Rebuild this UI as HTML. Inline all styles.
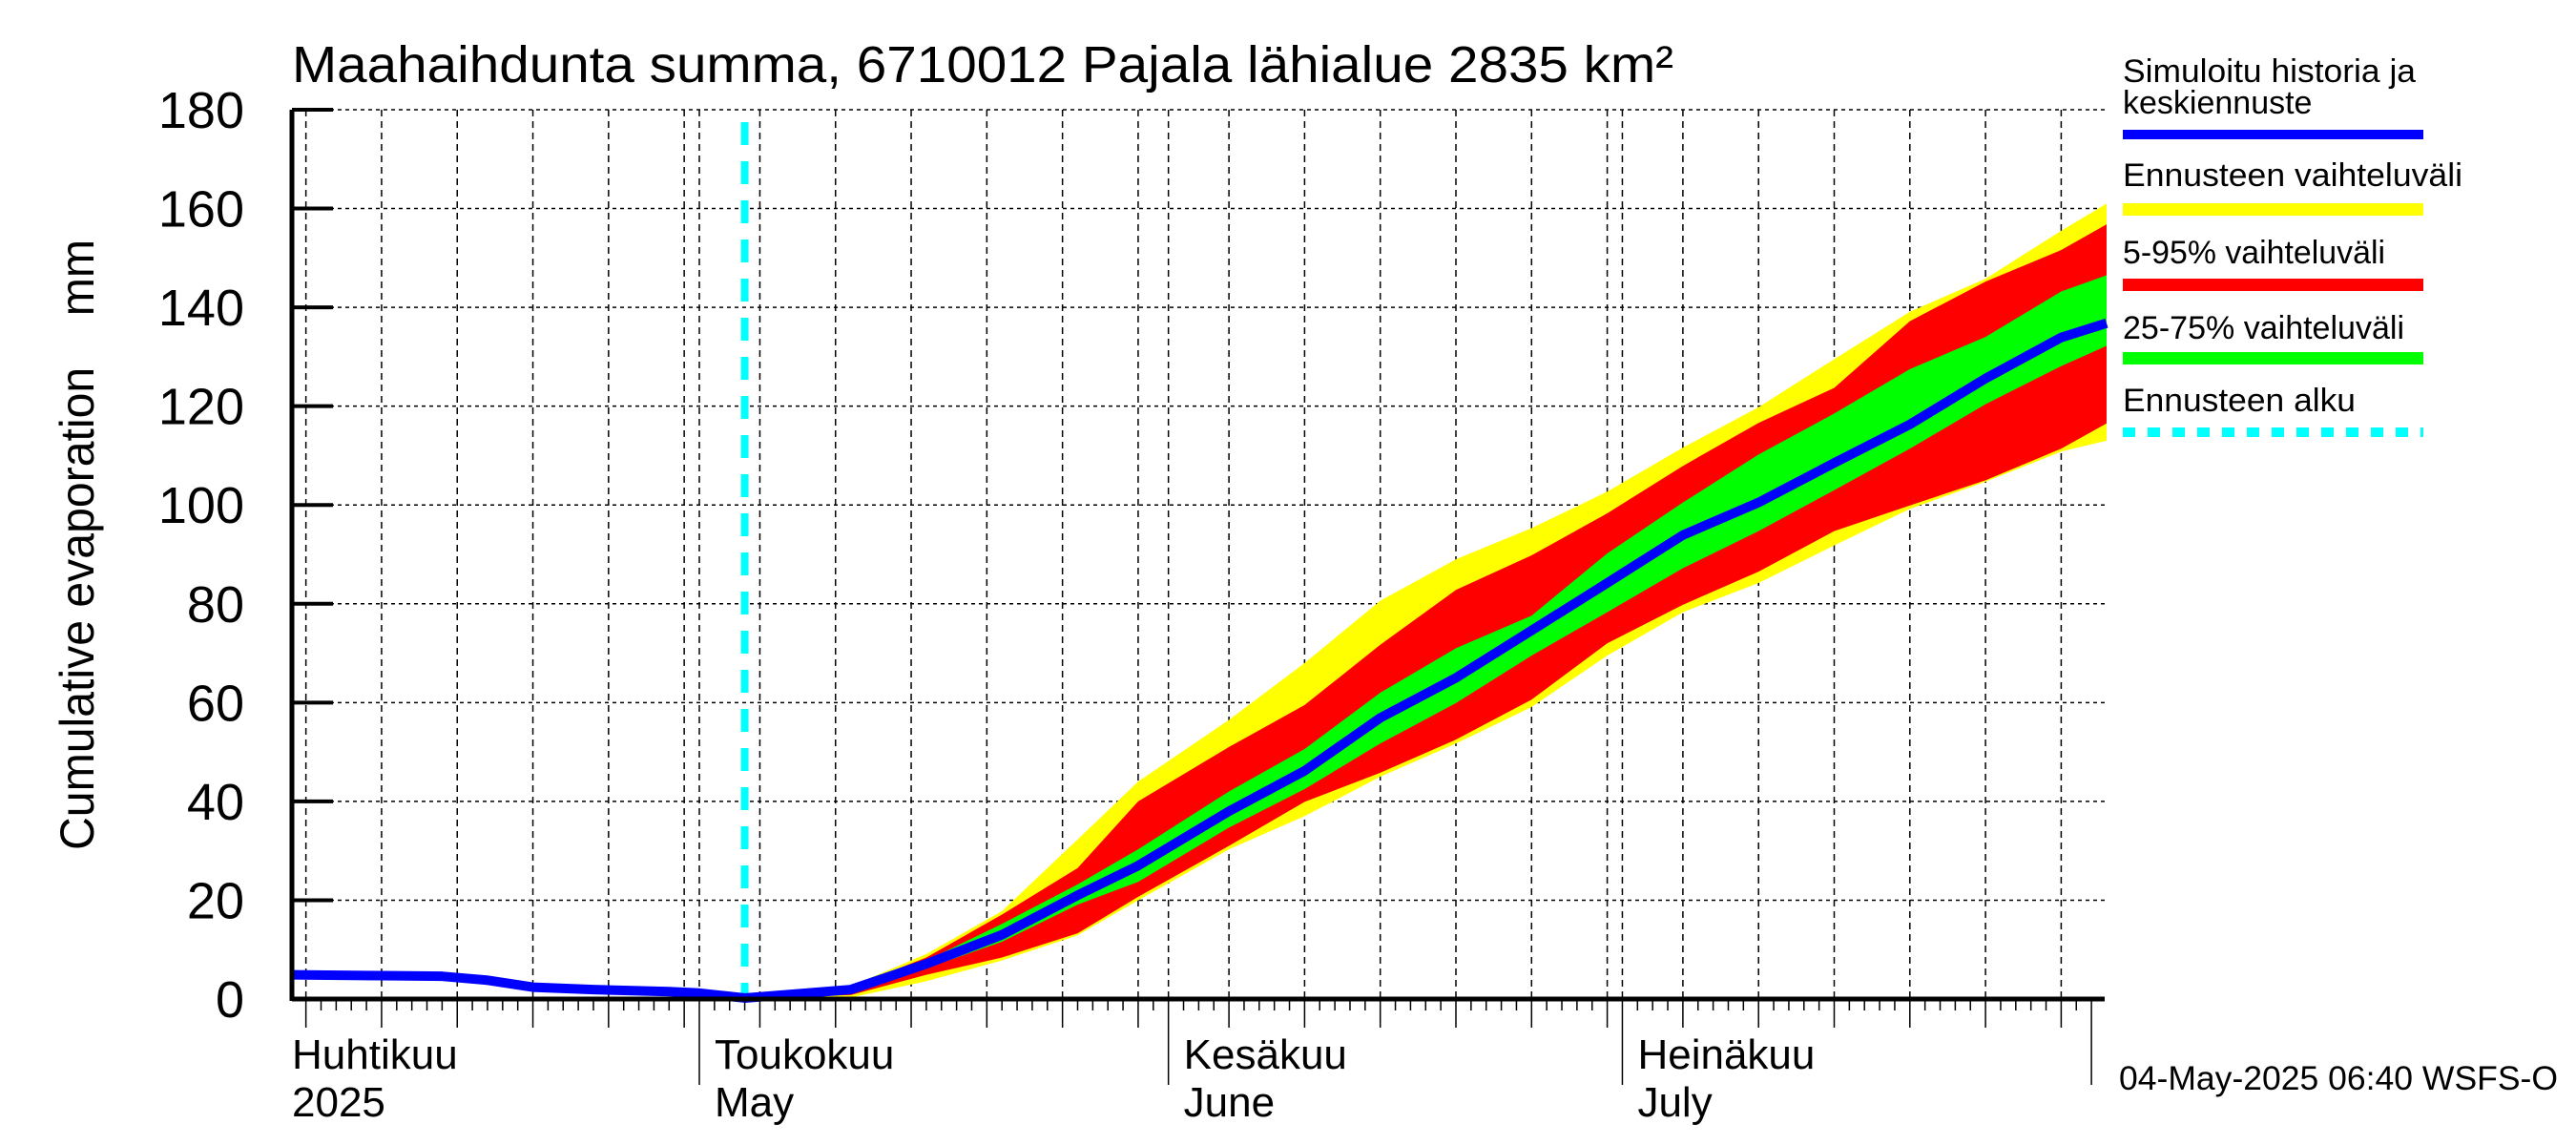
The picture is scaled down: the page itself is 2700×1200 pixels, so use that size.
<!DOCTYPE html>
<html><head><meta charset="utf-8"><style>
html,body{margin:0;padding:0;background:#fff;}
svg{display:block;font-family:"Liberation Sans",sans-serif;}
</style></head><body>
<svg id="chart" width="2700" height="1200" viewBox="0 0 2700 1200" xmlns="http://www.w3.org/2000/svg">
<text x="306" y="86" font-size="54" textLength="1448" lengthAdjust="spacingAndGlyphs">Maahaihdunta summa, 6710012 Pajala lähialue 2835 km²</text>
<text transform="translate(98,571) rotate(-90)" text-anchor="middle" font-size="50" textLength="640" lengthAdjust="spacingAndGlyphs">Cumulative evaporation&#160;&#160;&#160;&#160;mm</text>
<g id="grid"></g>
<g id="bands"></g>
<g id="lines"></g>
<g id="axes"></g>
<g font-size="34">
<text x="2225" y="86" textLength="307" lengthAdjust="spacingAndGlyphs">Simuloitu historia ja</text>
<text x="2225" y="119">keskiennuste</text>
<rect x="2225" y="136" width="315" height="10" fill="#0000ff"/>
<text x="2225" y="195" textLength="356" lengthAdjust="spacingAndGlyphs">Ennusteen vaihteluväli</text>
<rect x="2225" y="213" width="315" height="13" fill="#ffff00"/>
<text x="2225" y="276" textLength="275" lengthAdjust="spacingAndGlyphs">5-95% vaihteluväli</text>
<rect x="2225" y="292" width="315" height="13" fill="#ff0000"/>
<text x="2225" y="355" textLength="295" lengthAdjust="spacingAndGlyphs">25-75% vaihteluväli</text>
<rect x="2225" y="369" width="315" height="13" fill="#00ff00"/>
<text x="2225" y="431" textLength="244" lengthAdjust="spacingAndGlyphs">Ennusteen alku</text>
<line x1="2225" y1="453" x2="2540" y2="453" stroke="#00ffff" stroke-width="10" stroke-dasharray="13,13"/>
</g>
<text x="2221" y="1142" font-size="35" textLength="460" lengthAdjust="spacingAndGlyphs">04-May-2025 06:40 WSFS-O</text>
</svg>
<script>
// ---- data (days relative to 1 May 2025) ----
const histDays = [-27,-20,-17,-14,-11,-7,-2,0,3,6,10];
const histVals = [4.9,4.7,4.6,3.8,2.4,1.9,1.5,1.2,0.2,0.6,1.9];
const fcDays   = [3,10,15,20,25,29,35,40,45,50,55,60,65,70,75,80,85,90,93];
const median   = [0.2,1.9,7.1,13,21,27,38,46.2,56.9,65,74.6,84.2,93.9,100.5,108.5,116.3,125.6,133.9,136.8];
const yelHi    = [0.2,2.6,9.1,17.8,32.3,44,56.5,68,80.6,89,95.3,102.7,111.6,119.8,129.5,139.1,145.8,155.5,161];
const redHi    = [0.2,2.4,8.4,17.1,26.5,40,51,59.5,71.7,82.8,89.8,98.3,107.9,116.6,123.7,137.2,145.2,151.6,156.8];
const grnHi    = [0.2,2.2,7.8,15.2,23.2,30.3,42,50.6,62,71,77.6,90.2,100.5,110.2,118.5,127.5,134,143.2,146.5];
const grnLo    = [0.2,1.5,6.2,11.6,19.1,23.7,34.7,42.5,51.7,59.9,69.5,78.3,87.2,94.7,103,111.4,120.4,128.1,132.2];
const redLo    = [0.2,0.8,4.9,8.4,13.3,20.7,31,39.9,45.8,52.5,60.6,72,79.8,86.5,94.7,99.9,105,111.4,116.5];
const yelLo    = [0.2,0.3,3.6,7.8,12.9,20,30.3,37,45,51.7,59.1,69.5,78.3,84.2,91.8,99.2,104.7,110.8,113];
const yTicks   = [0,20,40,60,80,100,120,140,160,180];
const forecastStartDay = 3;
const monthStarts = [-30,0,31,61,92];
const monthLabels1 = ["Huhtikuu","Toukokuu","Kesäkuu","Heinäkuu"];
const monthLabels2 = ["2025","May","June","July"];

// ---- scales ----
const X0=306, X1=2206, Y0=1047, Y1=115, MAY1=733, DAY=15.86;
const xs = d => MAY1 + d*DAY;
const ys = v => Y0 - (v/180)*(Y0-Y1);
const NS="http://www.w3.org/2000/svg";
function mk(tag, parent, attrs){const e=document.createElementNS(NS,tag);for(const k in attrs)e.setAttribute(k,attrs[k]);parent.appendChild(e);return e;}
const grid=document.getElementById('grid'), bands=document.getElementById('bands'), lines=document.getElementById('lines'), axes=document.getElementById('axes');
const dMin=(X0-MAY1)/DAY, dMax=(X1-MAY1)/DAY;

yTicks.forEach(v=>{
  if(v>0){const g=mk('line',grid,{x1:X0,x2:X1,y1:ys(v),y2:ys(v),stroke:'#000','stroke-width':1.5,'stroke-dasharray':'4,4'});
  
  }
  const t=mk('line',axes,{x1:X0,x2:X0+43,y1:ys(v),y2:ys(v),stroke:'#000','stroke-width':4});
  
  
  const l=mk('text',axes,{x:256,y:ys(v)+19,'text-anchor':'end','font-size':54});
  l.textContent=v;
  
  
});

const mlen=[30,31,30,31,31];
let dayNum=[];
for(let m=0;m<4;m++){for(let k=0;k<mlen[m];k++){dayNum.push([monthStarts[m]+k,k+1]);}}
dayNum.forEach(([d,dom])=>{
  if(d<dMin||d>dMax) return;
  const x=xs(d);
  const isMonth=dom===1, isFive=dom%5===0;
  if(isMonth||isFive){
    const g=mk('line',grid,{x1:x,x2:x,y1:Y1,y2:Y0,stroke:'#000','stroke-width':1.5,'stroke-dasharray':'7,5'});
    
    
  }
  const len=isMonth?90:(isFive?30:12);
  const t=mk('line',axes,{x1:x,x2:x,y1:Y0,y2:Y0+len,stroke:'#000','stroke-width':1.5});
  
  
});
{const t=mk('line',axes,{x1:xs(92),x2:xs(92),y1:Y0,y2:Y0+90,stroke:'#000','stroke-width':1.5});

}
monthLabels1.forEach((s,i)=>{
  const x=Math.max(X0,xs(monthStarts[i])+16);
  const a=mk('text',axes,{x:x,y:1120,'font-size':44});a.textContent=s;
  
  
  const b=mk('text',axes,{x:x,y:1170,'font-size':44});b.textContent=monthLabels2[i];
  
  
});

function band(hi,lo,color,name){
  let pts=fcDays.map((d,i)=>xs(d)+','+ys(hi[i]));
  for(let i=fcDays.length-1;i>=0;i--) pts.push(xs(fcDays[i])+','+ys(lo[i]));
  const p=mk('polygon',bands,{points:pts.join(' '),fill:color});
  
  
}
band(yelHi,yelLo,'#ffff00','band-range');
band(redHi,redLo,'#ff0000','band-5-95');
band(grnHi,grnLo,'#00ff00','band-25-75');

{const c=mk('line',lines,{x1:xs(forecastStartDay),x2:xs(forecastStartDay),y1:128,y2:Y0,stroke:'#00ffff','stroke-width':8,'stroke-dasharray':'24,17'});

}

{const pts=[];histDays.forEach((d,i)=>{if(d<forecastStartDay)pts.push(xs(Math.max(d,dMin))+','+ys(histVals[i]));});
fcDays.forEach((d,i)=>pts.push(xs(d)+','+ys(median[i])));
const l=mk('polyline',lines,{points:pts.join(' '),fill:'none',stroke:'#0000ff','stroke-width':10,'stroke-linejoin':'round'});

}

{const a=mk('line',axes,{x1:X0,x2:X0,y1:Y1,y2:Y0+2,stroke:'#000','stroke-width':5});


const b=mk('line',axes,{x1:X0,x2:X1,y1:Y0,y2:Y0,stroke:'#000','stroke-width':5});

}
</script>
</body></html>
